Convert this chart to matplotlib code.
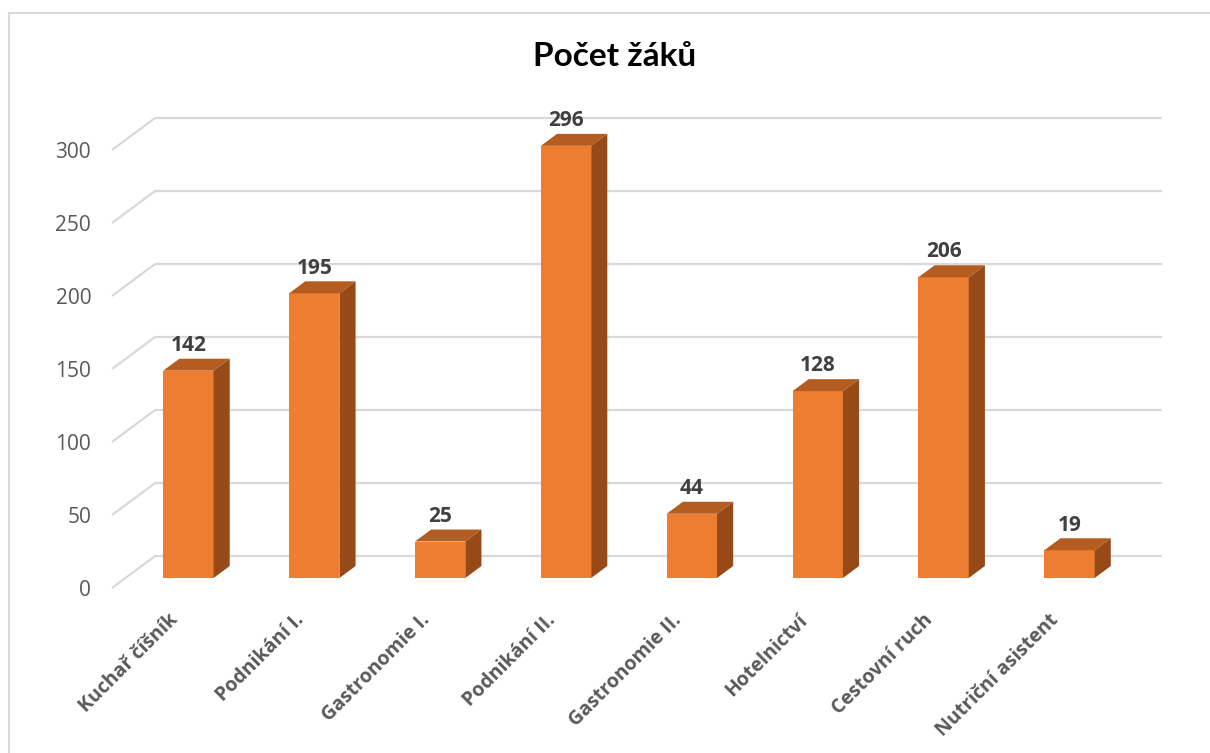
import matplotlib
matplotlib.use('Agg')
import matplotlib.pyplot as plt
from matplotlib.patches import Polygon
from matplotlib.lines import Line2D
import numpy as np

plt.rcParams['font.family'] = ['Open Sans', 'DejaVu Sans']

# data
categories = ['Kuchař číšník', 'Podnikání I.', 'Gastronomie I.', 'Podnikání II.',
              'Gastronomie II.', 'Hotelnictví', 'Cestovní ruch', 'Nutriční asistent']
values = [142, 195, 25, 296, 44, 128, 206, 19]
yticks = [0, 50, 100, 150, 200, 250, 300]
title = 'Počet žáků'

# colours
FRONT = '#ED7D31'
TOP = '#B55D21'
SIDE = '#974A18'
GRID = '#D9D9D9'

# pseudo 3D geometry (depth offset in data units)
DX = 0.342
DY = 21.9
D0, D1 = 0.3125, 0.6875   # bar depth range (fraction of floor depth)
BAR_W = 0.4

fig = plt.figure(figsize=(12.1, 7.53), dpi=100)
W, H = 1210, 753
ax = fig.add_axes([112 / W, (H - 588) / H, 1050 / W, 488 / H])
ax.set_xlim(-0.5, len(categories) - 0.5 + DX)
ax.set_ylim(0, 488 / 1.46)
for s in ax.spines.values():
    s.set_visible(False)

# gridlines: short diagonal on the side wall + horizontal on the back wall
n = len(categories)
for v in yticks:
    ax.plot([-0.5, -0.5 + DX, n - 0.5 + DX], [v, v + DY, v + DY],
            color=GRID, lw=1.6, zorder=1, clip_on=False, solid_capstyle='butt')

x = np.arange(n)
xf = x + D0 * DX
bottom = D0 * DY
dd = D1 - D0
ax.bar(xf, values, width=BAR_W, bottom=bottom, color=FRONT, zorder=3)
for xc, v in zip(xf, values):
    xl, xr = xc - BAR_W / 2, xc + BAR_W / 2
    top = bottom + v
    ax.add_patch(Polygon([(xl, top), (xr, top), (xr + dd * DX, top + dd * DY),
                          (xl + dd * DX, top + dd * DY)],
                         closed=True, facecolor=TOP, edgecolor='none', zorder=3))
    ax.add_patch(Polygon([(xr, bottom), (xr + dd * DX, bottom + dd * DY),
                          (xr + dd * DX, top + dd * DY), (xr, top)],
                         closed=True, facecolor=SIDE, edgecolor='none', zorder=3))
    ax.annotate(str(v), (xc, top + dd * DY), xytext=(0, 2), textcoords='offset points',
                ha='center', va='bottom', fontsize=15, fontweight='bold',
                color='#404040', zorder=4)

ax.set_yticks(yticks)
ax.set_yticklabels([str(t) for t in yticks], fontsize=15, color='#595959')
ax.tick_params(axis='y', length=0, pad=15)
ax.set_xticks(x)
ax.set_xticklabels(categories, rotation=45, ha='right', va='center',
                   rotation_mode='anchor', fontsize=14, fontweight='bold',
                   color='#595959')
ax.tick_params(axis='x', length=0, pad=21)

fig.text(615 / W, 1 - 57 / H, title, ha='center', va='center',
         fontsize=24, fontweight='bold', color='black', family=['Lato', 'DejaVu Sans'])

# chart border (top and left visible)
fig.add_artist(Line2D([9 / W, 1], [1 - 12.5 / H, 1 - 12.5 / H],
                      transform=fig.transFigure, color=GRID, lw=1.5))
fig.add_artist(Line2D([9 / W, 9 / W], [0, 1 - 12.5 / H],
                      transform=fig.transFigure, color=GRID, lw=1.5))

fig.savefig('out.png', dpi=100)
plt.close(fig)
